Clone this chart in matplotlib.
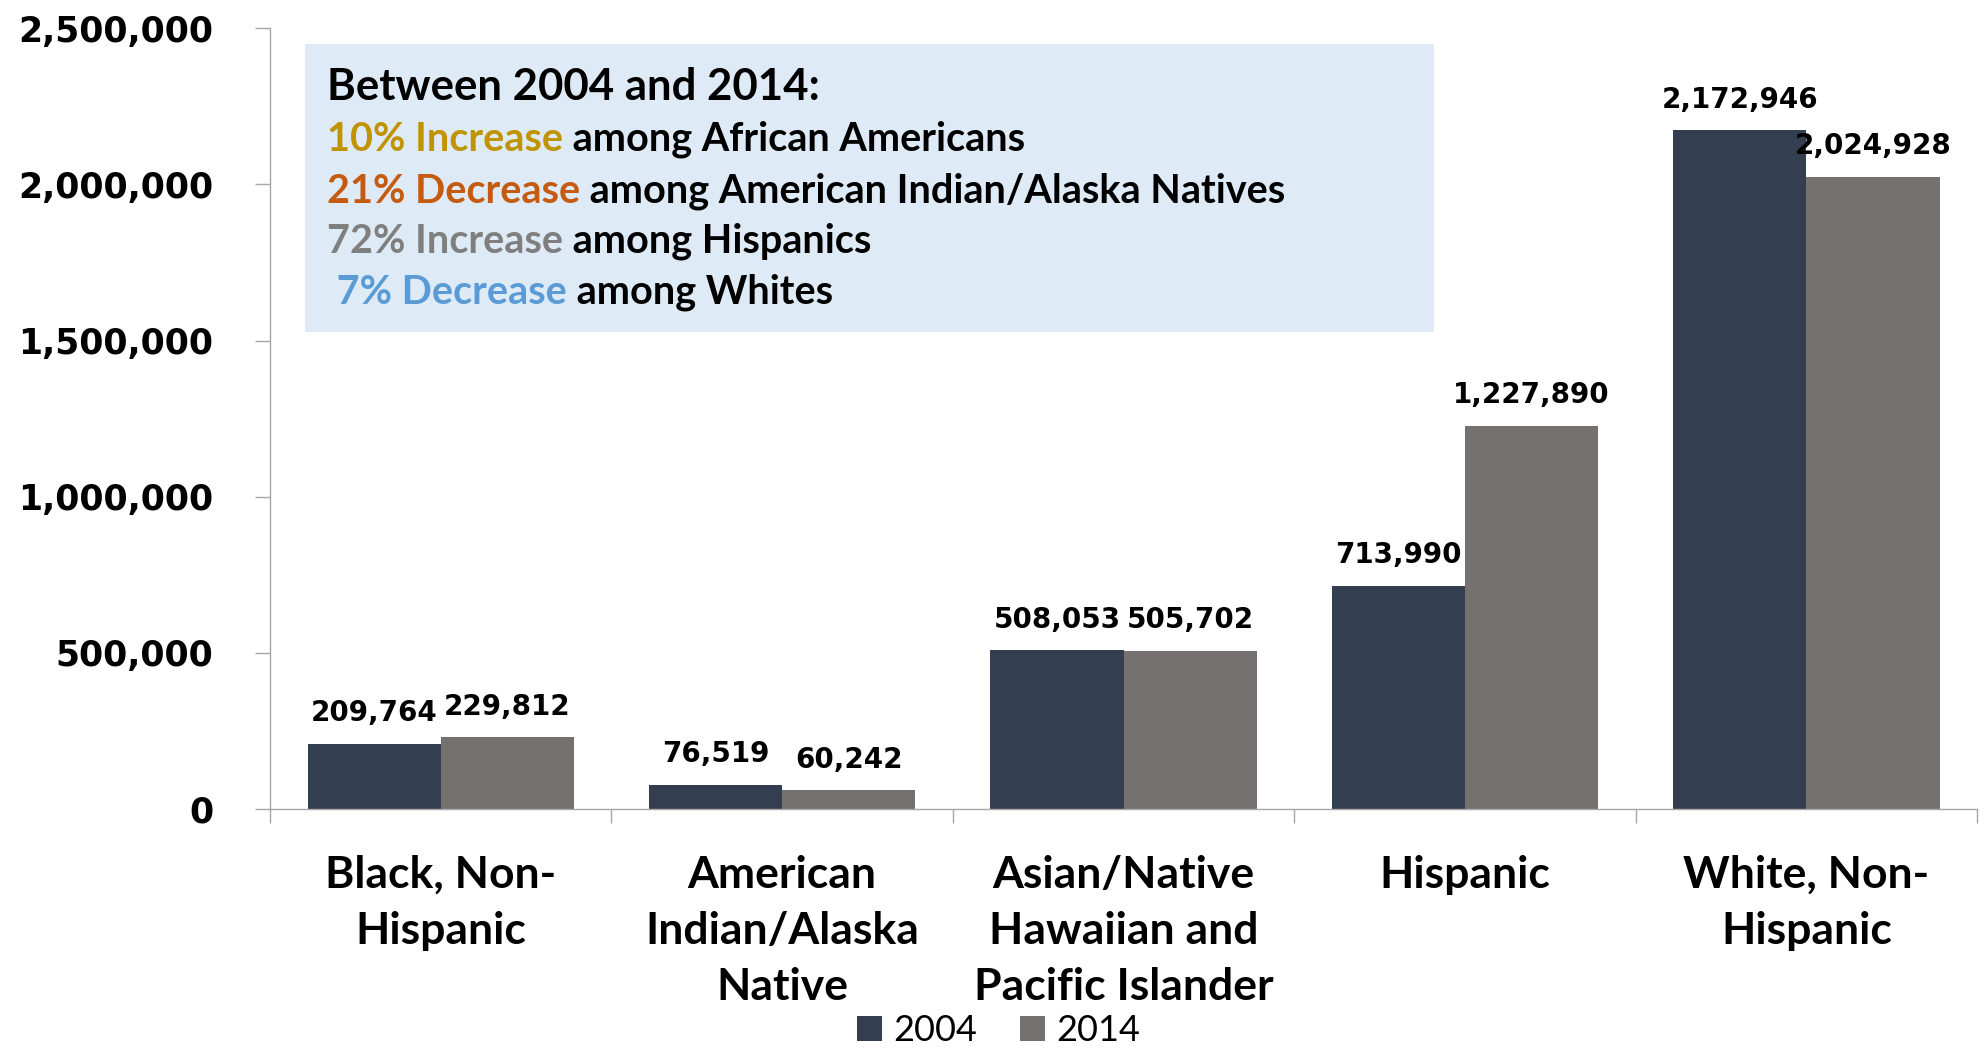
import matplotlib
matplotlib.use("Agg")
import matplotlib.pyplot as plt
from matplotlib.patches import Rectangle, Patch
from matplotlib.ticker import FuncFormatter, FixedLocator
import numpy as np

# enrolment counts by race/ethnicity
categories = ["Black, Non-\nHispanic", "American\nIndian/Alaska\nNative",
              "Asian/Native\nHawaiian and\nPacific Islander", "Hispanic",
              "White, Non-\nHispanic"]
years = ["2004", "2014"]
counts_2004 = [209764, 76519, 508053, 713990, 2172946]
counts_2014 = [229812, 60242, 505702, 1227890, 2024928]
y_ticks = [0, 500000, 1000000, 1500000, 2000000, 2500000]

# summary box: (highlight, colour, rest of line)
summary_title = "Between 2004 and 2014:"
summary_lines = [
    ("10% Increase", "#C09400", " among African Americans"),
    ("21% Decrease", "#C55A11", " among American Indian/Alaska Natives"),
    ("72% Increase", "#7F7F7F", " among Hispanics"),
    (" 7% Decrease", "#5B9BD5", " among Whites"),
]

color_2004 = "#333E50"
color_2014 = "#767171"
axis_color = "#A6A6A6"
num_font = "DejaVu Sans"
text_font = "Lato"

fig = plt.figure(figsize=(19.85, 10.48), dpi=100)
ax = fig.add_axes([0.136, 0.228, 0.86, 0.745])

x = np.arange(len(categories))
width = 0.39
bars_04 = ax.bar(x - width / 2, counts_2004, width, color=color_2004,
                 edgecolor="none", label=years[0], zorder=2)
bars_14 = ax.bar(x + width / 2, counts_2014, width, color=color_2014,
                 edgecolor="none", label=years[1], zorder=2)

for bars in (bars_04, bars_14):
    for b in bars:
        h = b.get_height()
        ax.annotate(f"{h:,.0f}", xy=(b.get_x() + b.get_width() / 2, h),
                    xytext=(0, 12), textcoords="offset points",
                    ha="center", va="bottom", fontsize=20,
                    fontweight="bold", family=num_font)

ax.set_xlim(-0.5, len(categories) - 0.5)
ax.set_ylim(0, 2500000)
ax.yaxis.set_major_locator(FixedLocator(y_ticks))
ax.yaxis.set_major_formatter(FuncFormatter(lambda v, p: f"{v:,.0f}"))
ax.tick_params(axis="y", length=11, width=1, color=axis_color, pad=30,
               labelsize=25)
for lbl in ax.get_yticklabels():
    lbl.set_fontweight("bold")
    lbl.set_family(num_font)

ax.set_xticks(x)
ax.set_xticklabels(categories, fontsize=32, fontweight="bold",
                   family=text_font, linespacing=1.48)
ax.tick_params(axis="x", which="major", length=0, pad=33)
ax.set_xticks(np.arange(-0.5, len(categories)), minor=True)
ax.tick_params(axis="x", which="minor", length=10, width=1, color=axis_color)

for side in ("top", "right"):
    ax.spines[side].set_visible(False)
for side in ("left", "bottom"):
    ax.spines[side].set_color(axis_color)
    ax.spines[side].set_linewidth(1)

# summary box
ax.add_patch(Rectangle((0.0205, 0.611), 0.6615, 0.3685,
                       transform=ax.transAxes, facecolor="#DEEAF6",
                       edgecolor="none", zorder=1))
ax.text(0.0334, 0.925, summary_title, transform=ax.transAxes,
        fontsize=31.5, fontweight="bold", family=text_font, va="center",
        ha="left", zorder=3)
line_y = [0.857, 0.791, 0.727, 0.662]
for (hl, col, rest), yy in zip(summary_lines, line_y):
    t = ax.text(0.0334, yy, hl, transform=ax.transAxes, fontsize=28.5,
                fontweight="bold", family=text_font, color=col,
                va="center", ha="left", zorder=3)
    ax.annotate(rest, xycoords=t, xy=(1, 0), va="bottom", ha="left",
                fontsize=28.5, fontweight="bold", family=text_font,
                color="black", zorder=3)

handles = [Patch(facecolor=color_2004, label=years[0]),
           Patch(facecolor=color_2014, label=years[1])]
fig.legend(handles=handles, loc="center", bbox_to_anchor=(0.503, 0.0165),
           ncol=2, frameon=False, handlelength=0.7, handleheight=0.7,
           handletextpad=0.3, columnspacing=1.2, borderpad=0.1,
           prop={"family": text_font, "size": 26})

fig.savefig("out.png", dpi=100)
